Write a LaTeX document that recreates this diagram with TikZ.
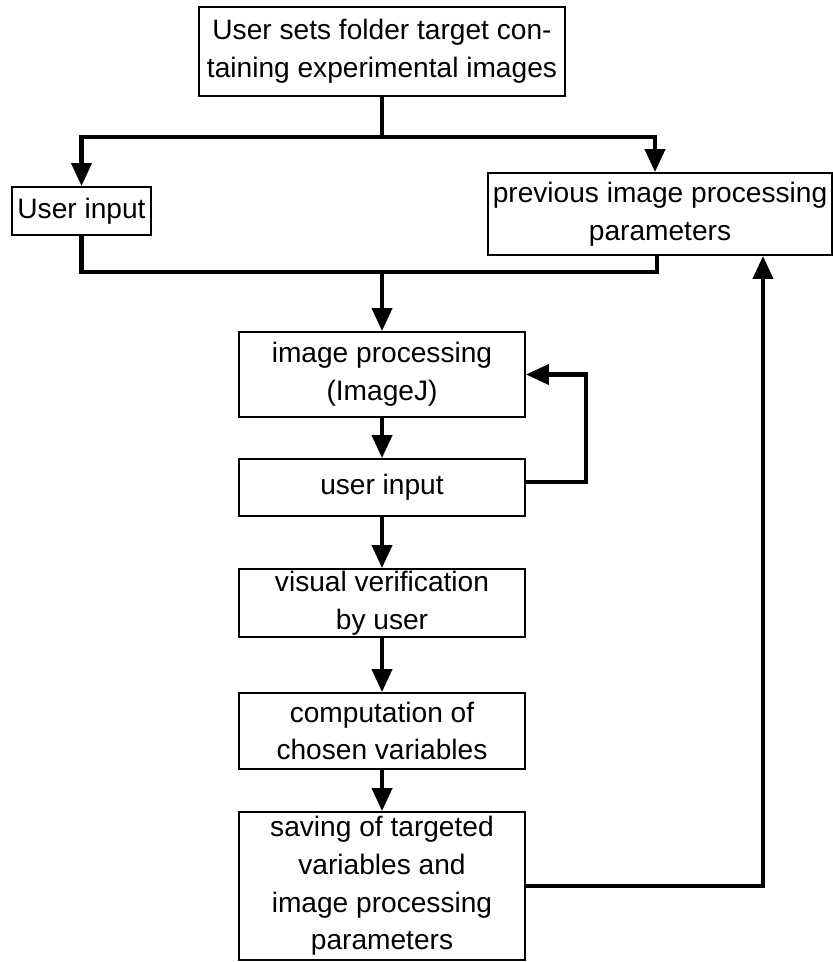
\documentclass[tikz,border=0pt]{standalone}
\usepackage{fontspec}
\setmainfont{Liberation Sans}
\usepackage{tikz}
\usetikzlibrary{arrows.meta}

\begin{document}
\begin{tikzpicture}[
		procbox/.style={draw, line width=1.1pt, fill=white, align=center,
			inner sep=1pt, font=\fontsize{16}{21.5}\selectfont},
		midbox/.style={procbox, minimum width=5.72cm},
		flow/.style={line width=2.3pt, line join=miter},
		flowarr/.style={flow, -{Triangle[length=4.6mm, width=4mm]}}
	]
	\useasboundingbox (0,0) rectangle (16.66,-19.24);

	\node[procbox, minimum width=7.32cm, minimum height=1.78cm] (folder) at (7.64,-1.03)
		{User sets folder target con-\\taining experimental images};
	\node[procbox, minimum width=2.78cm, minimum height=0.96cm] (userinput) at (1.63,-4.22)
		{User input};
	\node[procbox, minimum width=6.88cm, minimum height=1.64cm] (previous) at (13.2,-4.28)
		{previous image processing\\parameters};

	\node[midbox, minimum height=1.70cm] (imageproc) at (7.64,-7.49) {image processing\\(ImageJ)};
	\node[midbox, minimum height=1.14cm] (userloop) at (7.64,-9.75) {user input};
	\node[midbox, minimum height=1.36cm] (verify) at (7.64,-12.06) {visual verification\\by user};
	\node[midbox, minimum height=1.52cm] (compute) at (7.64,-14.62) {computation of\\chosen variables};
	\node[midbox, minimum height=2.96cm] (saving) at (7.64,-17.72)
		{saving of targeted\\variables and\\image processing\\parameters};

	% branching and merging lines
	\coordinate (split) at (7.64,-2.74);
	\coordinate (merge) at (7.64,-5.44);
	\coordinate (loopback) at (11.72,-9.64);
	\coordinate (return) at (15.26,-17.72);

	\draw[flow] (folder.south) -- (split);
	\draw[flowarr] (split) -| (userinput.north);
	\draw[flowarr] (split) -| ([xshift=-0.1cm]previous.north);
	\draw[flow] (userinput.south) |- (merge) -| ([xshift=-0.06cm]previous.south);
	\draw[flowarr] (merge) -- (imageproc.north);

	% main column
	\draw[flowarr] (imageproc) -- (userloop);
	\draw[flowarr] (userloop.east |- loopback) -- (loopback) |- (imageproc.east);
	\draw[flowarr] (userloop) -- (verify);
	\draw[flowarr] (verify) -- (compute);
	\draw[flowarr] (compute) -- (saving);
	\draw[flowarr] (saving.east) -- (return) -- (return |- previous.south);
\end{tikzpicture}
\end{document}
